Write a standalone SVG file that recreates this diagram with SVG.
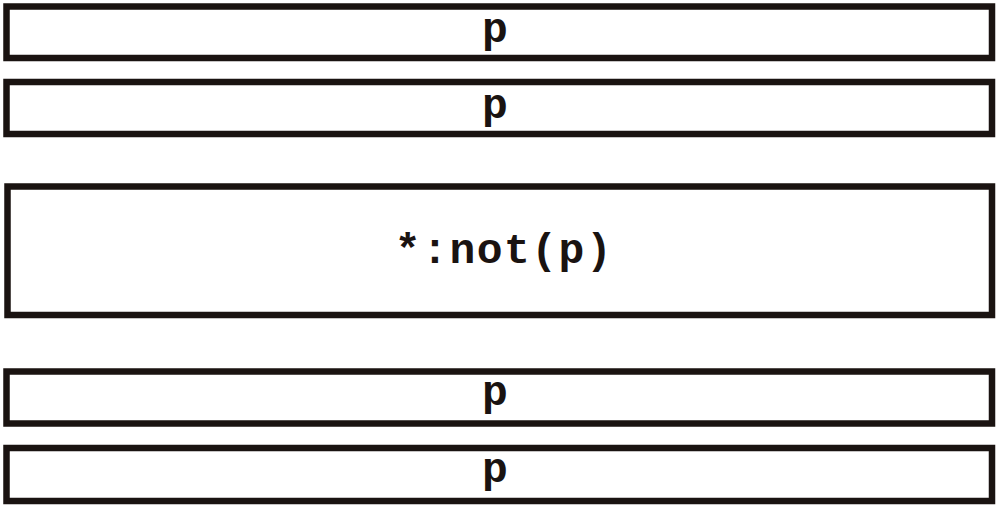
<svg xmlns="http://www.w3.org/2000/svg" width="998" height="507" viewBox="0 0 998 507">
<style>
.box{fill:#fff;stroke:#1a1311;stroke-width:6.5}
.t{font-family:"Liberation Mono","Courier New",monospace;font-weight:bold;font-size:43px;fill:#1a1311;text-anchor:middle}
</style>
<rect width="998" height="507" fill="#fff"/>
<g id="p1"><rect class="box" x="6.5" y="6.5" width="985.5" height="51.5"/><text class="t" x="495" y="42">p</text></g>
<g id="p2"><rect class="box" x="6.5" y="82" width="985.5" height="52"/><text class="t" x="495" y="118">p</text></g>
<g id="notp"><rect class="box" x="7.5" y="186.5" width="984.5" height="128.5"/><text class="t" x="504" y="263" letter-spacing="1.5">*:not(p)</text></g>
<g id="p3"><rect class="box" x="6.5" y="371.5" width="985.5" height="52"/><text class="t" x="495" y="405">p</text></g>
<g id="p4"><rect class="box" x="6.5" y="448" width="985.5" height="53"/><text class="t" x="495" y="482">p</text></g>
<g id="connectors"/>
</svg>
